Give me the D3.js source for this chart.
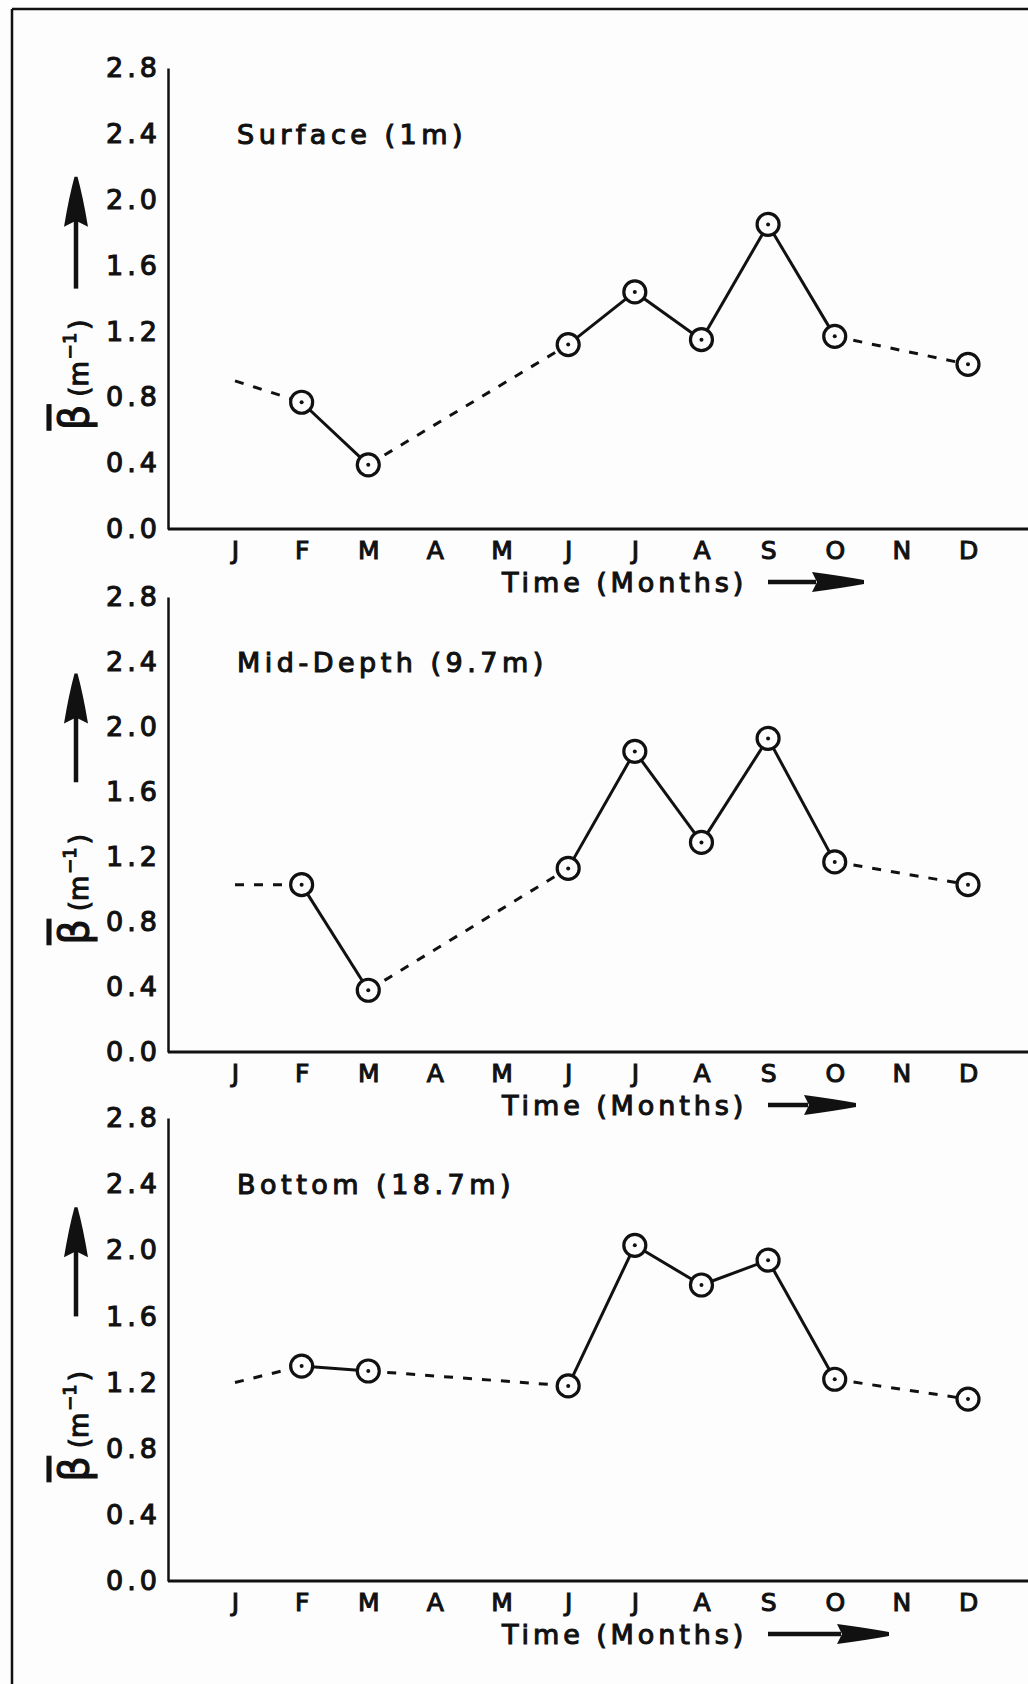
<!DOCTYPE html>
<html>
<head>
<meta charset="utf-8">
<script src="https://cdn.jsdelivr.net/npm/d3@7"></script>
<style>
  html, body { margin: 0; padding: 0; background: #fdfdfd; }
  svg { display: block; }
  text { font-family: "DejaVu Sans", sans-serif; fill: #111; stroke: #111; stroke-width: 1.1px; }
</style>
</head>
<body>
<svg id="chart" width="1028" height="1684"></svg>
<script>
// Monthly mean attenuation coefficient (beta, per metre) at three depths.
// January is an extrapolated starting value (no sample); A, M and N were not sampled.
const months = ["J", "F", "M", "A", "M", "J", "J", "A", "S", "O", "N", "D"];
const yTicks = [0.0, 0.4, 0.8, 1.2, 1.6, 2.0, 2.4, 2.8];
const panelTitles = ["Surface (1m)", "Mid-Depth (9.7m)", "Bottom (18.7m)"];
const surfaceBeta  = [0.90, 0.77, 0.39, null, null, 1.12, 1.44, 1.15, 1.85, 1.17, null, 1.00];
const midDepthBeta = [1.03, 1.03, 0.38, null, null, 1.13, 1.85, 1.29, 1.93, 1.17, null, 1.03];
const bottomBeta   = [1.20, 1.30, 1.27, null, null, 1.18, 2.03, 1.79, 1.94, 1.22, null, 1.10];
const measured     = [false, true, true, false, false, true, true, true, true, true, false, true];
const xAxisTitle = "Time (Months)";

const svg = d3.select("#chart");
const W = 1028, H = 1684;
const ink = "#111";

// page frame (left and top rules)
svg.append("line").attr("x1", 12).attr("y1", 9).attr("x2", 12).attr("y2", H)
  .attr("stroke", ink).attr("stroke-width", 2.5);
svg.append("line").attr("x1", 12).attr("y1", 9).attr("x2", W).attr("y2", 9)
  .attr("stroke", ink).attr("stroke-width", 2.5);

const series = [surfaceBeta, midDepthBeta, bottomBeta];
const layout = [
  { top: 68,   base: 529,  arrowEnd: 864, labelAt: 0.60, arrowFrom: 1.46, arrowTo: 2.14 },
  { top: 597,  base: 1052, arrowEnd: 856, labelAt: 0.66, arrowFrom: 1.66, arrowTo: 2.33 },
  { top: 1118, base: 1581, arrowEnd: 889, labelAt: 0.60, arrowFrom: 1.60, arrowTo: 2.26 }
];

const axisX = 168;
const x = d3.scaleLinear().domain([0, 11]).range([235, 968]);

series.forEach((vals, p) => {
  const L = layout[p];
  const y = d3.scaleLinear().domain([0, 2.8]).range([L.base, L.top]);
  const g = svg.append("g");

  // y axis
  const ya = g.append("g").attr("transform", `translate(${axisX},0)`)
    .call(d3.axisLeft(y).tickValues(yTicks).tickSize(0).tickPadding(7)
      .tickFormat(d3.format(".1f")));
  ya.select(".domain").attr("stroke", ink).attr("stroke-width", 2.5);
  ya.selectAll(".tick text").attr("font-size", 27).attr("letter-spacing", 4)
    .attr("font-family", "DejaVu Sans").attr("fill", ink);

  // x baseline running to the right edge
  g.append("line").attr("x1", axisX).attr("x2", W).attr("y1", L.base).attr("y2", L.base)
    .attr("stroke", ink).attr("stroke-width", 3);

  // month labels
  const xa = g.append("g").attr("transform", `translate(0,${L.base})`)
    .call(d3.axisBottom(x).tickValues(d3.range(12)).tickSize(0).tickPadding(12)
      .tickFormat(i => months[i]));
  xa.select(".domain").remove();
  xa.selectAll(".tick text").attr("font-size", 25).attr("font-family", "DejaVu Sans")
    .attr("fill", ink);

  // x axis title and arrow
  const ty = L.base + 53;
  g.append("text").attr("x", 502).attr("y", ty).attr("dy", "0.36em")
    .attr("font-size", 27).attr("letter-spacing", 3.9).text(xAxisTitle);
  const hx = L.arrowEnd - 52;
  g.append("line").attr("x1", 768).attr("x2", hx + 4).attr("y1", ty).attr("y2", ty)
    .attr("stroke", ink).attr("stroke-width", 4.5);
  g.append("path")
    .attr("d", `M${hx},${ty - 10} Q${hx + 30},${ty - 6} ${L.arrowEnd},${ty - 2} L${L.arrowEnd},${ty + 2} Q${hx + 30},${ty + 6} ${hx},${ty + 10} L${hx + 5},${ty} Z`)
    .attr("fill", ink);

  // panel title
  g.append("text").attr("x", 237).attr("y", y(2.4)).attr("dy", "0.36em")
    .attr("font-size", 27).attr("letter-spacing", 4.5).text(panelTitles[p]);

  // y axis title, rotated, with upward arrow
  const lab = g.append("text")
    .attr("transform", `translate(88,${y(L.labelAt)}) rotate(-90)`)
    .attr("stroke-width", 0.8);
  lab.append("tspan").attr("font-size", 40).attr("text-decoration", "overline").text("β");
  lab.append("tspan").attr("font-size", 26).attr("dx", 8).text("(m");
  lab.append("tspan").attr("font-size", 18).attr("dy", -12).attr("dx", 2).text("−1");
  lab.append("tspan").attr("font-size", 26).attr("dy", 12).attr("dx", 3).text(")");

  const ax = 76, a0 = y(L.arrowFrom), a1 = y(L.arrowTo);
  g.append("line").attr("x1", ax).attr("x2", ax).attr("y1", a0).attr("y2", a1 + 40)
    .attr("stroke", ink).attr("stroke-width", 4.5);
  g.append("path")
    .attr("d", `M${ax - 12},${a1 + 50} Q${ax - 7},${a1 + 20} ${ax - 1.5},${a1} L${ax + 1.5},${a1} Q${ax + 7},${a1 + 20} ${ax + 12},${a1 + 50} L${ax},${a1 + 44} Z`)
    .attr("fill", ink);

  // line segments: solid between consecutive sampled months, dashed otherwise
  const pts = vals.map((v, i) => ({ i, v })).filter(d => d.v !== null);
  for (let k = 0; k < pts.length - 1; k++) {
    const a = pts[k], b = pts[k + 1];
    const solid = measured[a.i] && measured[b.i] && b.i - a.i === 1;
    g.append("path")
      .attr("d", d3.line().x(d => x(d.i)).y(d => y(d.v))([a, b]))
      .attr("fill", "none").attr("stroke", ink).attr("stroke-width", 3)
      .attr("stroke-dasharray", solid ? null : "9,10");
  }

  // sample markers: open circle with centre dot
  const mk = g.selectAll(".mk").data(pts.filter(d => measured[d.i])).enter().append("g")
    .attr("transform", d => `translate(${x(d.i)},${y(d.v)})`);
  mk.append("circle").attr("r", 11).attr("fill", "#fdfdfd")
    .attr("stroke", ink).attr("stroke-width", 3.2);
  mk.append("circle").attr("r", 2).attr("fill", ink);
});
</script>
</body>
</html>
